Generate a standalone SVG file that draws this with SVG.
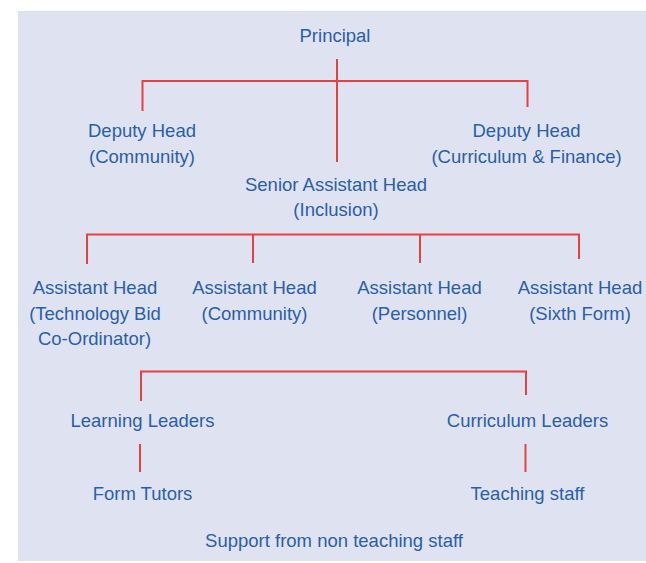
<svg xmlns="http://www.w3.org/2000/svg" width="646" height="563" viewBox="0 0 646 563">
<style>
.t{font-family:"Liberation Sans",Arial,sans-serif;font-size:18.5px;fill:#2a5ea9;text-anchor:middle}
.c{stroke:#e8403e;stroke-width:2;fill:none}
</style>
<rect x="0" y="0" width="646" height="563" fill="#ffffff"/>
<rect x="18" y="11" width="628" height="550" fill="#dfe3f1"/>
<g id="connectors">
<path class="c" d="M337 59V162"/>
<path class="c" d="M142.5 111V81H527.5V107"/>
<path class="c" d="M87 264V234.5H579V259"/>
<path class="c" d="M253 234.5V263"/>
<path class="c" d="M420 234.5V263"/>
<path class="c" d="M141 401V371.5H526V395"/>
<path class="c" d="M140 444V472"/>
<path class="c" d="M525.5 444V472"/>
</g>
<g id="principal"><text class="t" x="335" y="42">Principal</text></g>
<g id="deputy-community"><text class="t" x="142" y="137">Deputy Head</text><text class="t" x="142" y="163">(Community)</text></g>
<g id="deputy-curriculum"><text class="t" x="526.5" y="137">Deputy Head</text><text class="t" x="526.5" y="163">(Curriculum &amp; Finance)</text></g>
<g id="senior-assistant"><text class="t" x="336" y="191">Senior Assistant Head</text><text class="t" x="336" y="216">(Inclusion)</text></g>
<g id="ah-technology"><text class="t" x="95" y="294">Assistant Head</text><text class="t" x="95" y="320">(Technology Bid</text><text class="t" x="94.5" y="345">Co-Ordinator)</text></g>
<g id="ah-community"><text class="t" x="254.5" y="294">Assistant Head</text><text class="t" x="254.5" y="320">(Community)</text></g>
<g id="ah-personnel"><text class="t" x="419.5" y="294">Assistant Head</text><text class="t" x="419.5" y="320">(Personnel)</text></g>
<g id="ah-sixth-form"><text class="t" x="580" y="294">Assistant Head</text><text class="t" x="580" y="320">(Sixth Form)</text></g>
<g id="learning-leaders"><text class="t" x="142.5" y="427">Learning Leaders</text></g>
<g id="curriculum-leaders"><text class="t" x="527.5" y="427">Curriculum Leaders</text></g>
<g id="form-tutors"><text class="t" x="142.5" y="500">Form Tutors</text></g>
<g id="teaching-staff"><text class="t" x="527.5" y="500">Teaching staff</text></g>
<g id="support"><text class="t" x="334" y="547">Support from non teaching staff</text></g>
</svg>
